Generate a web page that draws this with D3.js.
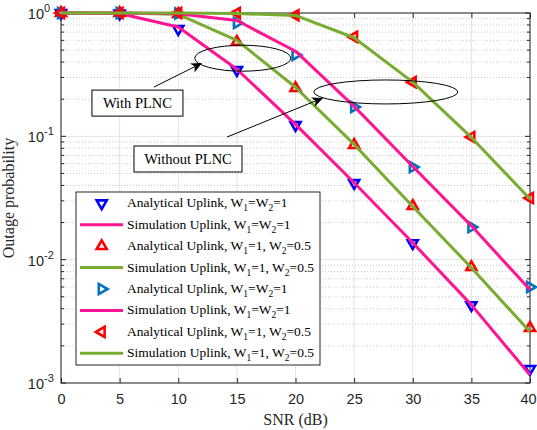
<!DOCTYPE html>
<html>
<head>
<meta charset="utf-8">
<script src="https://cdn.jsdelivr.net/npm/d3@7"></script>
<style>
body { margin: 0; background: #fff; }
svg { display: block; }
</style>
</head>
<body>
<script>
// ---- data ---------------------------------------------------------------
var snr = [0, 5, 10, 15, 20, 25, 30, 35, 40];

// with PLNC
var anaWithEq   = [1, 0.99, 0.741, 0.345, 0.1235, 0.0418, 0.0136, 0.00428, 0.0013];
var simWithEq   = [1, 0.99, 0.77, 0.35, 0.125, 0.042, 0.0137, 0.0043, 0.00116];
var anaWithHalf = [1, 1, 0.98, 0.582, 0.246, 0.085, 0.0272, 0.0087, 0.00279];
var simWithHalf = [1, 1, 0.975, 0.6, 0.25, 0.086, 0.027, 0.0086, 0.0026];

// without PLNC
var anaWoEq     = [1, 1, 0.99, 0.83, 0.457, 0.173, 0.0564, 0.0184, 0.006];
var simWoEq     = [1, 1, 0.985, 0.87, 0.49, 0.175, 0.057, 0.0188, 0.0057];
var anaWoHalf   = [1, 1, 1, 1, 0.96, 0.64, 0.275, 0.0987, 0.0316];
var simWoHalf   = [1, 1, 1, 0.99, 0.955, 0.63, 0.275, 0.098, 0.031];

var xTicks = [0, 5, 10, 15, 20, 25, 30, 35, 40];
var yTickExp = [0, -1, -2, -3];

var legendLabels = [
    "Analytical Uplink, W_1=W_2=1",
    "Simulation Uplink, W_1=W_2=1",
    "Analytical Uplink, W_1=1, W_2=0.5",
    "Simulation Uplink, W_1=1, W_2=0.5",
    "Analytical Uplink, W_1=W_2=1",
    "Simulation Uplink, W_1=W_2=1",
    "Analytical Uplink, W_1=1, W_2=0.5",
    "Simulation Uplink, W_1=1, W_2=0.5"
];

// ---- layout --------------------------------------------------------------
var margin = {top: 13, right: 7, bottom: 47, left: 61},
    width = 537 - margin.left - margin.right,
    height = 430 - margin.top - margin.bottom;

var MAGENTA = "#ff1493", GREEN = "#77ac30";
var SERIF = "'Liberation Serif', 'Times New Roman', serif";
var SANS = "'Liberation Sans', Arial, sans-serif";

// each plotted item, in the order MATLAB would draw it (= legend order)
var items = [
    {type: "marker", values: anaWithEq, color: "#0000ff", rot: 180},
    {type: "line", values: simWithEq, color: MAGENTA},
    {type: "marker", values: anaWithHalf, color: "#ff0000", rot: 0},
    {type: "line", values: simWithHalf, color: GREEN},
    {type: "marker", values: anaWoEq, color: "#0072bd", rot: 90},
    {type: "line", values: simWoEq, color: MAGENTA},
    {type: "marker", values: anaWoHalf, color: "#ff0000", rot: -90},
    {type: "line", values: simWoHalf, color: GREEN}
];

var svg = d3.select("body").append("svg")
    .attr("width", 537)
    .attr("height", 430)
    .append("g")
    .attr("transform", "translate(" + margin.left + "," + margin.top + ")");

var xScale = d3.scaleLinear().domain([0, 40]).range([0, width]);
var yScale = d3.scaleLog().domain([1e-3, 1]).range([height, 0]);

// ---- grid ----------------------------------------------------------------
var minorVals = [];
yTickExp.forEach(function(e) {
    if (e === 0) return;
    for (var k = 2; k <= 9; k++) minorVals.push(k * Math.pow(10, e));
});

svg.append("g").selectAll("line")
    .data(minorVals)
    .enter().append("line")
    .attr("x1", 0).attr("x2", width)
    .attr("y1", function(d) { return yScale(d); })
    .attr("y2", function(d) { return yScale(d); })
    .attr("stroke", "#c8c8c8")
    .attr("stroke-width", 1)
    .attr("stroke-dasharray", "1,2");

svg.append("g").selectAll("line")
    .data(xTicks)
    .enter().append("line")
    .attr("x1", function(d) { return xScale(d); })
    .attr("x2", function(d) { return xScale(d); })
    .attr("y1", 0).attr("y2", height)
    .attr("stroke", "#e3e3e3");

svg.append("g").selectAll("line")
    .data(yTickExp)
    .enter().append("line")
    .attr("x1", 0).attr("x2", width)
    .attr("y1", function(d) { return yScale(Math.pow(10, d)); })
    .attr("y2", function(d) { return yScale(Math.pow(10, d)); })
    .attr("stroke", "#e3e3e3");

// ---- axes (inward ticks, box) --------------------------------------------
var axisColor = "#262626";

function styleAxis(g) {
    g.select(".domain").remove();
    g.selectAll(".tick line").attr("stroke", axisColor);
}

var xAxis = d3.axisBottom(xScale).tickValues(xTicks).tickSize(-5)
    .tickPadding(11).tickFormat(d3.format("d"));
svg.append("g")
    .attr("transform", "translate(0," + height + ")")
    .call(xAxis)
    .call(styleAxis)
    .selectAll("text")
    .attr("font-family", SANS)
    .attr("font-size", "14.5px")
    .attr("fill", axisColor)
    // keep the last label inside the page
    .attr("dx", function(d) { return d === 40 ? -2 : 0; });

svg.append("g")
    .call(d3.axisTop(xScale).tickValues(xTicks).tickSize(-5).tickFormat(""))
    .call(styleAxis);

[0, width].forEach(function(xPos) {
    var dir = xPos === 0 ? 1 : -1;
    var g = svg.append("g");
    g.selectAll("line.maj")
        .data(yTickExp)
        .enter().append("line")
        .attr("x1", xPos).attr("x2", xPos + dir * 5)
        .attr("y1", function(d) { return yScale(Math.pow(10, d)); })
        .attr("y2", function(d) { return yScale(Math.pow(10, d)); })
        .attr("stroke", axisColor);
    g.selectAll("line.min")
        .data(minorVals)
        .enter().append("line")
        .attr("x1", xPos).attr("x2", xPos + dir * 3)
        .attr("y1", function(d) { return yScale(d); })
        .attr("y2", function(d) { return yScale(d); })
        .attr("stroke", axisColor);
});

svg.append("rect")
    .attr("x", 0).attr("y", 0)
    .attr("width", width).attr("height", height)
    .attr("fill", "none")
    .attr("stroke", axisColor)
    .attr("stroke-width", 1);

// y tick labels 10^e : base right-aligned, exponent after it
var yLab = svg.append("g").selectAll("g")
    .data(yTickExp)
    .enter().append("g")
    .attr("transform", function(d) {
        return "translate(0," + yScale(Math.pow(10, d)) + ")";
    });
yLab.append("text")
    .attr("x", -17)
    .attr("y", 6)
    .attr("text-anchor", "end")
    .attr("font-family", SANS)
    .attr("font-size", "14.5px")
    .attr("fill", axisColor)
    .text("10");
yLab.append("text")
    .attr("x", -17)
    .attr("y", -1)
    .attr("font-family", SANS)
    .attr("font-size", "11px")
    .attr("fill", axisColor)
    .text(function(d) { return d === 0 ? "0" : "-" + (-d); });

// axis titles
svg.append("text")
    .attr("x", width / 2)
    .attr("y", height + 42)
    .attr("text-anchor", "middle")
    .attr("font-family", SERIF)
    .attr("font-size", "16px")
    .attr("fill", axisColor)
    .text("SNR (dB)");

svg.append("text")
    .attr("transform", "rotate(-90)")
    .attr("x", -height / 2)
    .attr("y", -47)
    .attr("text-anchor", "middle")
    .attr("font-family", SERIF)
    .attr("font-size", "16px")
    .attr("fill", axisColor)
    .text("Outage probability");

// ---- data ----------------------------------------------------------------
var tri = d3.symbol().type(d3.symbolTriangle).size(44);
var lineGen = d3.line()
    .x(function(d, i) { return xScale(snr[i]); })
    .y(function(d) { return yScale(d); });

items.forEach(function(it) {
    if (it.type === "line") {
        svg.append("path")
            .datum(it.values)
            .attr("d", lineGen)
            .attr("fill", "none")
            .attr("stroke", it.color)
            .attr("stroke-width", 3)
            .attr("stroke-linejoin", "round");
    } else {
        svg.append("g").selectAll("path")
            .data(it.values)
            .enter().append("path")
            .attr("d", tri)
            .attr("transform", function(d, i) {
                return "translate(" + xScale(snr[i]) + "," + yScale(d) +
                    ") rotate(" + it.rot + ")";
            })
            .attr("fill", "none")
            .attr("stroke", it.color)
            .attr("stroke-width", 2.6);
    }
});

// ---- annotations (data coordinates) --------------------------------------
var ellipses = [
    {x: 15.5, y: 0.43, rx: 48, ry: 13},
    {x: 27.7, y: 0.229, rx: 72, ry: 12}
];
var arrows = [
    {x1: 7.93, y1: 0.251, x2: 12.03, y2: 0.393},
    {x1: 14.16, y1: 0.0987, x2: 22.35, y2: 0.205}
];
var boxes = [
    {text: "With PLNC", x: 6.52, y: 0.186, w: 91, h: 26},
    {text: "Without PLNC", x: 10.83, y: 0.0655, w: 108, h: 26}
];

svg.append("g").selectAll("ellipse")
    .data(ellipses)
    .enter().append("ellipse")
    .attr("cx", function(d) { return xScale(d.x); })
    .attr("cy", function(d) { return yScale(d.y); })
    .attr("rx", function(d) { return d.rx; })
    .attr("ry", function(d) { return d.ry; })
    .attr("fill", "none")
    .attr("stroke", "#000")
    .attr("stroke-width", 1);

arrows.forEach(function(a) {
    var x1 = xScale(a.x1), y1 = yScale(a.y1),
        x2 = xScale(a.x2), y2 = yScale(a.y2);
    var ang = Math.atan2(y2 - y1, x2 - x1) * 180 / Math.PI;
    svg.append("line")
        .attr("x1", x1).attr("y1", y1)
        .attr("x2", x2 - 6 * Math.cos(ang * Math.PI / 180))
        .attr("y2", y2 - 6 * Math.sin(ang * Math.PI / 180))
        .attr("stroke", "#000")
        .attr("stroke-width", 1);
    svg.append("path")
        .attr("d", "M0,0 L-11,-5 L-8,0 L-11,5 Z")
        .attr("transform", "translate(" + x2 + "," + y2 + ") rotate(" + ang + ")")
        .attr("fill", "#000");
});

boxes.forEach(function(b) {
    var cx = xScale(b.x), cy = yScale(b.y);
    svg.append("rect")
        .attr("x", cx - b.w / 2).attr("y", cy - b.h / 2)
        .attr("width", b.w).attr("height", b.h)
        .attr("fill", "#fff")
        .attr("stroke", "#000")
        .attr("stroke-width", 1);
    svg.append("text")
        .attr("x", cx).attr("y", cy + 5)
        .attr("text-anchor", "middle")
        .attr("font-family", SERIF)
        .attr("font-size", "14.5px")
        .attr("fill", "#000")
        .text(b.text);
});

// ---- legend --------------------------------------------------------------
var legend = svg.append("g")
    .attr("transform", "translate(" + (76 - margin.left) + "," +
          (192 - margin.top) + ")");

legend.append("rect")
    .attr("width", 244).attr("height", 173)
    .attr("fill", "#fff")
    .attr("stroke", axisColor)
    .attr("stroke-width", 1);

items.forEach(function(it, i) {
    var ry = 11.3 + i * 21.43;
    var row = legend.append("g").attr("transform", "translate(0," + ry + ")");
    if (it.type === "line") {
        row.append("line")
            .attr("x1", 4).attr("x2", 47)
            .attr("stroke", it.color)
            .attr("stroke-width", 3);
    } else {
        row.append("path")
            .attr("d", tri)
            .attr("transform", "translate(25.7,0) rotate(" + it.rot + ")")
            .attr("fill", "none")
            .attr("stroke", it.color)
            .attr("stroke-width", 2.6);
    }
    var t = row.append("text")
        .attr("x", 51)
        .attr("y", 4)
        .attr("font-family", SERIF)
        .attr("font-size", "13.5px")
        .attr("fill", "#000");
    legendLabels[i].split(/_(\d)/).forEach(function(part, j) {
        if (j % 2 === 1) {
            t.append("tspan").attr("dy", 4).attr("font-size", "9.5px").text(part);
        } else if (j > 0) {
            t.append("tspan").attr("dy", -4).text(part);
        } else {
            t.append("tspan").text(part);
        }
    });
});
</script>
</body>
</html>
